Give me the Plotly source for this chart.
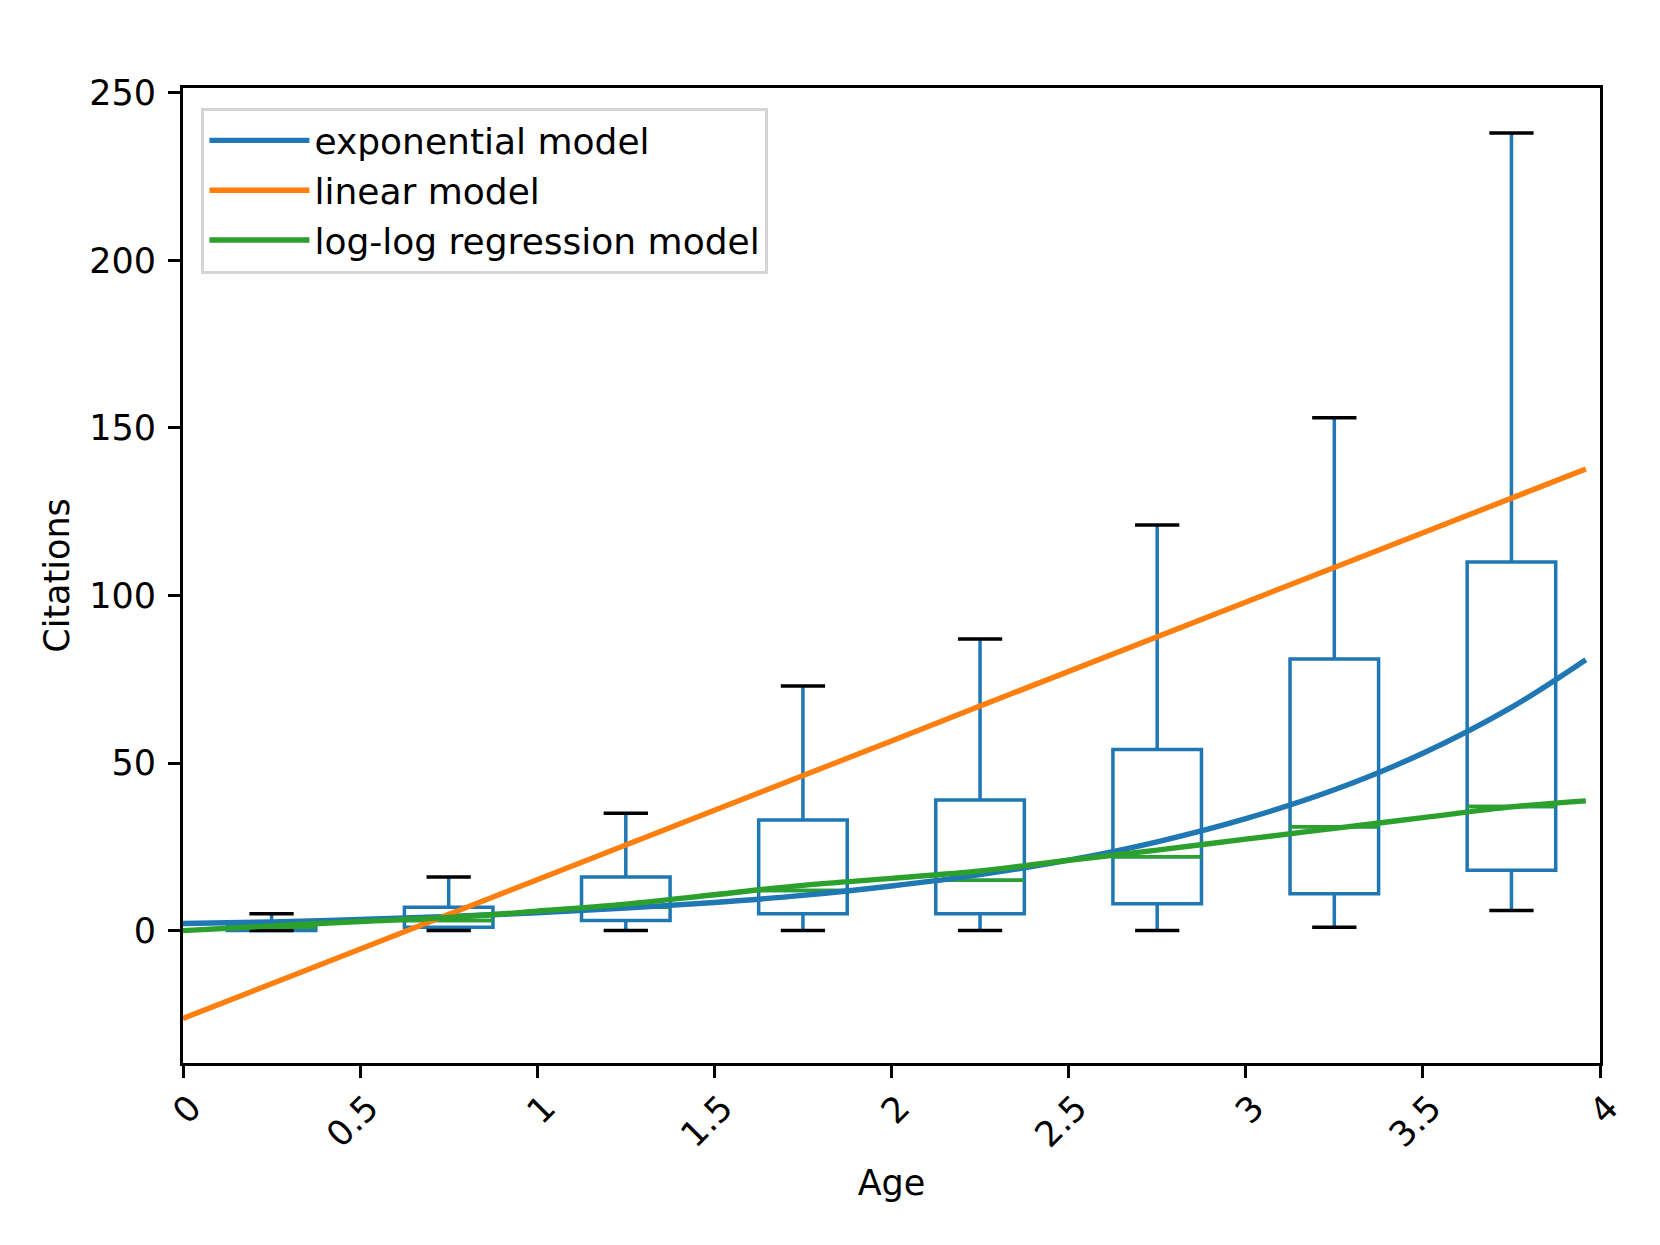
import plotly.graph_objects as go

# box summaries per age bin
positions = [0.25, 0.75, 1.25, 1.75, 2.25, 2.75, 3.25, 3.75]
lower = [0, 0, 0, 0, 0, 0, 1, 6]
q1 = [0, 1, 3, 5, 5, 8, 11, 18]
median = [1, 3, 7, 12, 15, 22, 31, 37]
q3 = [2, 7, 16, 33, 39, 54, 81, 110]
upper = [5, 16, 35, 73, 87, 121, 153, 238]

# fitted model curves
age = [0, 0.25, 0.5, 0.75, 1.0, 1.25, 1.5, 1.75, 2.0, 2.25, 2.5, 2.75,
       3.0, 3.25, 3.5, 3.75, 3.96]
exp_model = [2.1, 2.6, 3.3, 4.2, 5.3, 6.7, 8.4, 10.5, 13.3, 16.7, 21.0,
             26.5, 33.4, 42.0, 52.9, 66.6, 80.8]
lin_model = [-26.2, -15.9, -5.5, 4.9, 15.2, 25.6, 35.9, 46.3, 56.6, 67.0,
             77.3, 87.7, 98.0, 108.4, 118.7, 129.1, 137.7]
loglog_model = [0.0, 1.4, 2.7, 3.9, 5.8, 7.9, 10.7, 13.5, 15.6, 17.8, 21.0,
                24.0, 27.3, 30.5, 33.7, 36.9, 38.7]

BLUE = "#1f77b4"
ORANGE = "#ff7f0e"
GREEN = "#2ca02c"
BOX_W = 0.25

fig = go.Figure()

fig.add_trace(go.Box(
    x=positions, q1=q1, median=median, q3=q3,
    lowerfence=lower, upperfence=upper,
    width=BOX_W, whiskerwidth=0, boxpoints=False,
    line=dict(color=BLUE, width=3.5), fillcolor="rgba(0,0,0,0)",
    showlegend=False, hoverinfo="skip",
))

# black caps and green medians, as in matplotlib's boxplot
cap_x, cap_y, med_x, med_y = [], [], [], []
for p, lo, hi, m in zip(positions, lower, upper, median):
    for v in (lo, hi):
        cap_x += [p - BOX_W / 4, p + BOX_W / 4, None]
        cap_y += [v, v, None]
    med_x += [p - BOX_W / 2, p + BOX_W / 2, None]
    med_y += [m, m, None]

fig.add_trace(go.Scatter(x=cap_x, y=cap_y, mode="lines",
                         line=dict(color="black", width=3.5),
                         showlegend=False, hoverinfo="skip"))
fig.add_trace(go.Scatter(x=med_x, y=med_y, mode="lines",
                         line=dict(color=GREEN, width=3.5),
                         showlegend=False, hoverinfo="skip"))

fig.add_trace(go.Scatter(x=age, y=exp_model, mode="lines", name="exponential model",
                         line=dict(color=BLUE, width=5.4, shape="spline")))
fig.add_trace(go.Scatter(x=age, y=lin_model, mode="lines", name="linear model",
                         line=dict(color=ORANGE, width=5.4)))
fig.add_trace(go.Scatter(x=age, y=loglog_model, mode="lines", name="log-log regression model",
                         line=dict(color=GREEN, width=5.4, shape="spline")))

axis_common = dict(
    showline=True, linecolor="black", linewidth=3, mirror=True,
    ticks="outside", ticklen=12, tickwidth=3, tickcolor="black",
    showgrid=False, zeroline=False,
    tickfont=dict(size=35, color="black"),
)

xticks = [0, 0.5, 1, 1.5, 2, 2.5, 3, 3.5, 4]
fig.update_xaxes(
    range=[0, 4], tickvals=xticks, ticktext=[f"{t:g}" for t in xticks],
    tickangle=-45, ticklabelshift=8, ticklabelstandoff=-5,
    title=dict(text="Age", font=dict(size=35, color="black"), standoff=17),
    **axis_common,
)
fig.update_yaxes(
    range=[-39.5, 251.4], tickvals=[0, 50, 100, 150, 200, 250],
    ticklabelstandoff=5,
    title=dict(text="Citations", font=dict(size=35, color="black"), standoff=9),
    **axis_common,
)

# page body has an 8px margin, so the figure is sized to sit inside the window
fig.update_layout(
    width=1644, height=1229,
    margin=dict(l=175, r=52, t=80, b=174),
    plot_bgcolor="white", paper_bgcolor="white",
    font=dict(family="DejaVu Sans", color="black"),
    legend=dict(
        x=0.013, y=0.98, xanchor="left", yanchor="top",
        bgcolor="rgba(255,255,255,0.8)", bordercolor="#d5d5d5", borderwidth=3,
        font=dict(size=36, color="black"), itemwidth=100,
    ),
)

fig.write_html("out.html")
